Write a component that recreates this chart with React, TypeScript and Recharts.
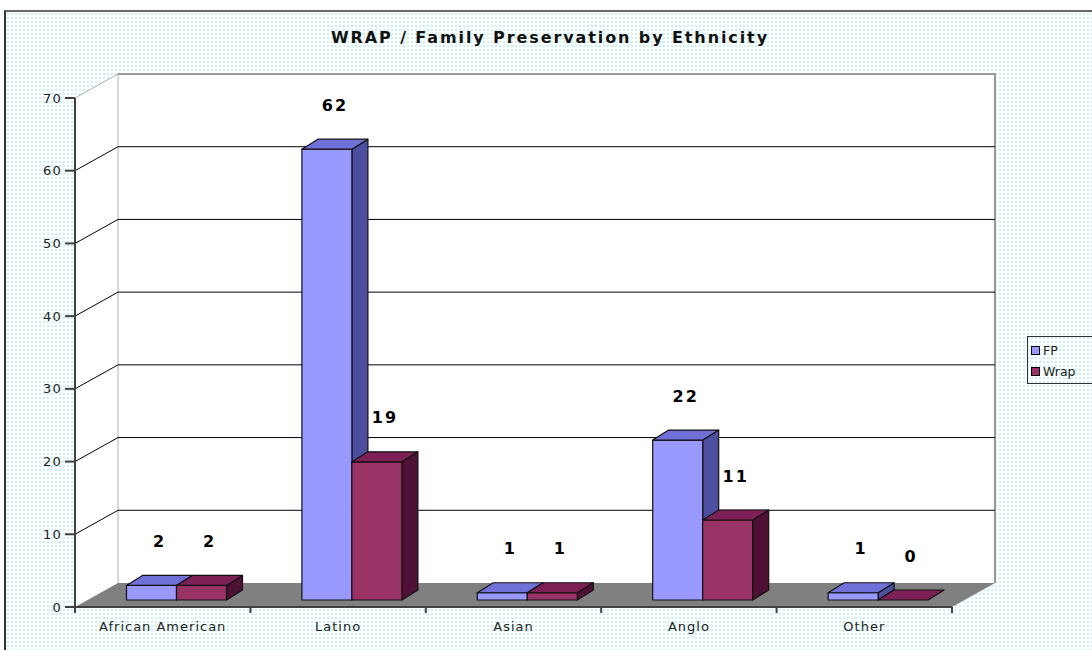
import { BarChart, Bar, XAxis, YAxis, LabelList, Legend } from "recharts";

const categories = ["African American", "Latino", "Asian", "Anglo", "Other"];
const fpValues = [2, 62, 1, 22, 1];
const wrapValues = [2, 19, 1, 11, 0];
const yTicks = [0, 10, 20, 30, 40, 50, 60, 70];
const seriesNames = ["FP", "Wrap"];

const data = categories.map((category, i) => ({
  category,
  fp: fpValues[i],
  wrap: wrapValues[i],
}));

// bar plane of the fake 3d box
const W = 1092;
const H = 650;
const PLOT_L = 88.5;
const PLOT_R = 965.5;
const PLOT_T = 91;
const PLOT_B = 600;
const Y_MAX = 70;
const FRONT = { dx: -13.5, dy: 7 };
const BACK = { dx: 29.5, dy: -17 };
const BAR_DX = 16;
const BAR_DY = 10;

const colors = {
  fp: { front: "#9999ff", top: "#7070d8", side: "#4e4ea0" },
  wrap: { front: "#993366", top: "#7d2055", side: "#4e1034" },
};

const font = "'DejaVu Sans', Verdana, sans-serif";

const yPos = (v: number) => PLOT_B - (v / Y_MAX) * (PLOT_B - PLOT_T);

// walls, floor and gridlines, sitting behind the chart svg
function Walls() {
  const xf = PLOT_L + FRONT.dx;
  const xb = PLOT_L + BACK.dx;
  const xfR = PLOT_R + FRONT.dx;
  const xbR = PLOT_R + BACK.dx;
  const topF = PLOT_T + FRONT.dy;
  const topB = PLOT_T + BACK.dy;
  const botF = PLOT_B + FRONT.dy;
  const botB = PLOT_B + BACK.dy;
  return (
    <svg width={W} height={H} style={{ position: "absolute", left: 0, top: 0 }}>
      <rect x={xb} y={topB} width={xbR - xb} height={botB - topB} fill="#fff" />
      <polygon points={`${xf},${topF} ${xb},${topB} ${xb},${botB} ${xf},${botF}`} fill="#fff" />
      <line x1={xb} y1={topB} x2={xb} y2={botB} stroke="#b0b0b0" />
      <line x1={xf} y1={topF} x2={xb} y2={topB} stroke="#b0b0b0" />
      <polyline points={`${xb},${topB} ${xbR},${topB} ${xbR},${botB}`} fill="none" stroke="#999" strokeWidth={2} />
      {yTicks
        .filter((v) => v > 0 && v < Y_MAX)
        .map((v) => {
          const y = yPos(v);
          return (
            <g key={v}>
              <line x1={xf} y1={y + FRONT.dy} x2={xb} y2={y + BACK.dy} stroke="#000" />
              <line x1={xb} y1={y + BACK.dy} x2={xbR} y2={y + BACK.dy} stroke="#000" />
            </g>
          );
        })}
      <polygon points={`${xf},${botF} ${xfR},${botF} ${xbR},${botB} ${xb},${botB}`} fill="#808080" />
      <line x1={xf} y1={topF} x2={xf} y2={botF + 1} stroke="#404040" strokeWidth={2} />
      <line x1={xf} y1={botF} x2={xfR} y2={botF} stroke="#404040" strokeWidth={2} />
    </svg>
  );
}

function YTick(props: any) {
  const { y, payload } = props;
  const xf = PLOT_L + FRONT.dx;
  const yf = y + FRONT.dy;
  return (
    <g>
      <line x1={xf - 10} y1={yf} x2={xf} y2={yf} stroke="#404040" strokeWidth={2} />
      <text x={xf - 13} y={yf} dy="0.35em" textAnchor="end" fontFamily={font} fontSize={13} letterSpacing={1.2} fill="#222">
        {payload.value}
      </text>
    </g>
  );
}

function XTick(props: any) {
  const { x, payload, index } = props;
  const band = (PLOT_R - PLOT_L) / categories.length;
  const cx = x + FRONT.dx;
  const yf = PLOT_B + FRONT.dy;
  const left = cx - band / 2;
  return (
    <g>
      <line x1={left} y1={yf} x2={left} y2={yf + 6} stroke="#404040" strokeWidth={2} />
      {index === categories.length - 1 && (
        <line x1={left + band} y1={yf} x2={left + band} y2={yf + 6} stroke="#404040" strokeWidth={2} />
      )}
      <text x={cx} y={yf + 24} textAnchor="middle" fontFamily={font} fontSize={13} letterSpacing={1} fill="#222">
        {payload.value}
      </text>
    </g>
  );
}

function Box3D(props: any) {
  const { x, y, width: w, height, palette } = props;
  const h = Math.max(0, height || 0);
  const top = `${x},${y} ${x + BAR_DX},${y - BAR_DY} ${x + w + BAR_DX},${y - BAR_DY} ${x + w},${y}`;
  const side = `${x + w},${y} ${x + w + BAR_DX},${y - BAR_DY} ${x + w + BAR_DX},${y + h - BAR_DY} ${x + w},${y + h}`;
  return (
    <g stroke="#111" strokeWidth={1.2} strokeLinejoin="round">
      {h > 0 && <polygon points={side} fill={palette.side} />}
      {h > 0 && <rect x={x} y={y} width={w} height={h} fill={palette.front} />}
      <polygon points={top} fill={palette.top} />
    </g>
  );
}

function ValueLabel(props: any) {
  const { x, y, width, value } = props;
  return (
    <text x={x + width / 2 + 8} y={y - 44} dy="0.35em" textAnchor="middle" fontFamily={font} fontWeight="bold" fontSize={16} letterSpacing={2} fill="#000">
      {value}
    </text>
  );
}

function LegendBox() {
  const swatches = [colors.fp.front, colors.wrap.front];
  return (
    <div style={{ border: "1px solid #333", padding: "3px 0 1px 3px", width: 70, fontFamily: font, fontSize: 12.5, color: "#222" }}>
      {seriesNames.map((n, i) => (
        <div key={n} style={{ display: "flex", alignItems: "center", height: 21 }}>
          <span style={{ display: "inline-block", width: 7, height: 7, background: swatches[i], border: "1px solid #000", marginRight: 3 }} />
          {n}
        </div>
      ))}
    </div>
  );
}

export default function App() {
  return (
    <div style={{ position: "absolute", left: 0, top: 0, width: W, height: H, background: "#fff", overflow: "hidden" }}>
      <div
        style={{
          position: "absolute",
          left: 4,
          top: 10,
          width: W,
          height: H,
          borderLeft: "2px solid #333",
          borderTop: "2px solid #666",
          backgroundColor: "#fff",
          backgroundImage: "radial-gradient(circle, #c6f3f3 0.8px, transparent 1px)",
          backgroundSize: "4px 4px",
        }}
      />
      <div style={{ position: "absolute", left: 0, top: 28, width: 1100, textAlign: "center", fontFamily: font, fontWeight: "bold", fontSize: 16, letterSpacing: 1.9, color: "#111" }}>
        WRAP / Family Preservation by Ethnicity
      </div>
      <Walls />
      <div style={{ position: "absolute", left: 0, top: 0 }}>
        <BarChart
          width={W}
          height={H}
          data={data}
          margin={{ top: PLOT_T, right: W - PLOT_R, bottom: 20, left: PLOT_L - 60 }}
          barCategoryGap={38}
          barGap={0}
        >
          <YAxis width={60} domain={[0, Y_MAX]} ticks={yTicks} interval={0} axisLine={false} tickLine={false} tick={<YTick />} />
          <XAxis dataKey="category" height={30} interval={0} axisLine={false} tickLine={false} tick={<XTick />} />
          <Bar dataKey="fp" name="FP" isAnimationActive={false} shape={(p: any) => <Box3D {...p} palette={colors.fp} />}>
            <LabelList dataKey="fp" content={<ValueLabel />} />
          </Bar>
          <Bar dataKey="wrap" name="Wrap" isAnimationActive={false} shape={(p: any) => <Box3D {...p} palette={colors.wrap} />}>
            <LabelList dataKey="wrap" content={<ValueLabel />} />
          </Bar>
          <Legend layout="vertical" align="center" verticalAlign="middle" content={<LegendBox />} wrapperStyle={{ position: "absolute", left: 1027, top: 336, width: 80 }} />
        </BarChart>
      </div>
    </div>
  );
}
